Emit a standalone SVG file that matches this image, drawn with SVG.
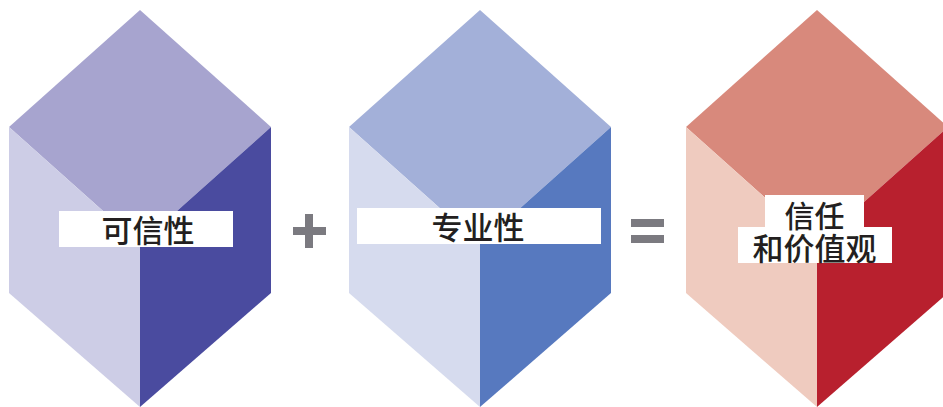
<svg xmlns="http://www.w3.org/2000/svg" width="943" height="407" viewBox="0 0 943 407">
<style>
.lbl{font-family:"Noto Sans CJK SC","Noto Sans",sans-serif;font-size:31px;font-weight:500;fill:#231f20;text-anchor:middle}
.box{fill:#ffffff}
.op{fill:#7b7a80}
</style>
<rect width="943" height="407" fill="#ffffff"/>
<g id="cube-credibility">
<polygon points="140,10 271,127 140,244 9,127" fill="#a7a4cf"/>
<polygon points="9,127 140,244 140,407 9,293" fill="#cdcde6"/>
<polygon points="271,127 140,244 140,407 271,293" fill="#4a4b9f"/>
<rect class="box" x="59" y="211" width="174" height="36"/>
<text class="lbl" x="148" y="242">可信性</text>
</g>
<g id="plus">
<rect class="op" x="293" y="227" width="33" height="8"/>
<rect class="op" x="305" y="214" width="8" height="34"/>
</g>
<g id="cube-expertise">
<polygon points="480,10 611,127 480,244 349,127" fill="#a3b0d9"/>
<polygon points="349,127 480,244 480,407 349,293" fill="#d6dbee"/>
<polygon points="611,127 480,244 480,407 611,293" fill="#5779bf"/>
<rect class="box" x="357" y="208" width="244" height="36"/>
<text class="lbl" x="478" y="239">专业性</text>
</g>
<g id="equals">
<rect class="op" x="631" y="219" width="33" height="8"/>
<rect class="op" x="631" y="235" width="33" height="8"/>
</g>
<g id="cube-trust">
<polygon points="817,10 948,127 817,244 686,127" fill="#d8897c"/>
<polygon points="686,127 817,244 817,407 686,293" fill="#efcbbf"/>
<polygon points="948,127 817,244 817,407 948,293" fill="#b8202e"/>
<rect class="box" x="765" y="195" width="99" height="33"/>
<rect class="box" x="738" y="227" width="154" height="36"/>
<text class="lbl" x="814.5" y="227" style="font-size:30px">信任</text>
<text class="lbl" x="814.5" y="260" style="font-size:31px">和价值观</text>
</g>
<g id="connectors"></g>
</svg>
